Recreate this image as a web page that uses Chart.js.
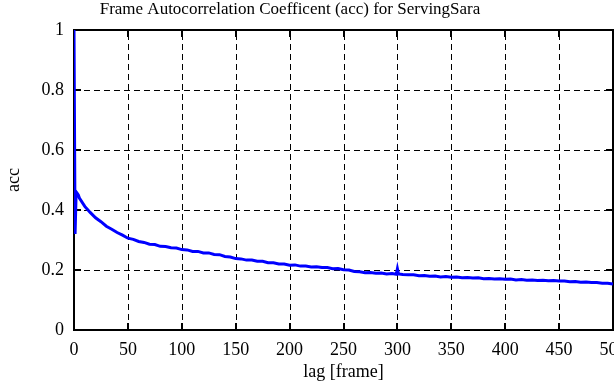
<!DOCTYPE html>
<html>
<head>
<meta charset="utf-8">
<script src="https://cdn.jsdelivr.net/npm/chart.js@4"></script>
<style>
	html, body { margin: 0; padding: 0; background: #fff; }
	#wrap { width: 614px; height: 385px; position: relative; }
</style>
</head>
<body>
<div id="wrap"><canvas id="acc-chart"></canvas></div>
<script>
const titleText = "Frame Autocorrelation Coefficent (acc) for ServingSara";
const xLabel = "lag [frame]";
const yLabel = "acc";

// lag values (frames) and the autocorrelation
const lags = [
	0, 1, 2, 3, 4, 5, 10, 15, 20, 25, 30, 35, 40, 45, 50, 55, 60, 65, 70, 75,
	80, 85, 90, 95, 100, 105, 110, 115, 120, 125, 130, 135, 140, 145, 150,
	155, 160, 165, 170, 175, 180, 185, 190, 195, 200, 205, 210, 215, 220,
	225, 230, 235, 240, 245, 250, 255, 260, 265, 270, 275, 280, 285, 290,
	295, 299, 300, 301, 305, 310, 315, 320, 325, 330, 335, 340, 345, 350,
	355, 360, 365, 370, 375, 380, 385, 390, 395, 400, 405, 410, 415, 420,
	425, 430, 435, 440, 445, 450, 455, 460, 465, 470, 475, 480, 485, 490,
	495, 500,
];
const acc = [
	1, 0.32, 0.46, 0.455, 0.45, 0.44, 0.412, 0.392, 0.374, 0.361, 0.346,
	0.336, 0.325, 0.316, 0.306, 0.302, 0.295, 0.292, 0.286, 0.285, 0.279,
	0.278, 0.274, 0.273, 0.268, 0.267, 0.262, 0.262, 0.257, 0.257, 0.252,
	0.251, 0.245, 0.243, 0.238, 0.237, 0.233, 0.233, 0.229, 0.229, 0.224,
	0.224, 0.22, 0.22, 0.216, 0.217, 0.213, 0.213, 0.21, 0.211, 0.208,
	0.208, 0.204, 0.205, 0.201, 0.2, 0.195, 0.194, 0.191, 0.192, 0.189,
	0.19, 0.187, 0.188, 0.186, 0.204, 0.187, 0.185, 0.184, 0.184, 0.181,
	0.182, 0.179, 0.18, 0.177, 0.178, 0.176, 0.177, 0.174, 0.175, 0.173,
	0.174, 0.171, 0.172, 0.17, 0.171, 0.169, 0.17, 0.167, 0.168, 0.166,
	0.167, 0.165, 0.166, 0.164, 0.165, 0.163, 0.163, 0.161, 0.162, 0.159,
	0.16, 0.158, 0.158, 0.156, 0.156, 0.153,
];

const xTicks = [0, 50, 100, 150, 200, 250, 300, 350, 400, 450, 500];
const yTicks = [0, 0.2, 0.4, 0.6, 0.8, 1];

const fontFamily = "'Liberation Serif', 'DejaVu Serif', serif";

// gnuplot style frame: dashed grid, solid border, inward ticks
const framePlugin = {
	id: "frame",
	beforeDatasetsDraw(chart) {
		const { ctx, chartArea: a, scales } = chart;
		ctx.save();
		ctx.strokeStyle = "#000";
		ctx.lineWidth = 1;
		ctx.setLineDash([6, 4]);
		xTicks.forEach(v => {
			if (v === 0 || v === 500) return;
			const x = Math.round(scales.x.getPixelForValue(v)) + 0.5;
			ctx.beginPath();
			ctx.moveTo(x, a.bottom);
			ctx.lineTo(x, a.top);
			ctx.stroke();
		});
		yTicks.forEach(v => {
			if (v === 0 || v === 1) return;
			const y = Math.round(scales.y.getPixelForValue(v)) + 0.5;
			ctx.beginPath();
			ctx.moveTo(a.left, y);
			ctx.lineTo(a.right, y);
			ctx.stroke();
		});
		ctx.setLineDash([]);
		ctx.lineWidth = 2;
		ctx.strokeRect(a.left, a.top, a.right - a.left, a.bottom - a.top);
		const tl = 7;
		xTicks.forEach(v => {
			const x = Math.round(scales.x.getPixelForValue(v));
			ctx.beginPath();
			ctx.moveTo(x, a.bottom);
			ctx.lineTo(x, a.bottom - tl);
			ctx.moveTo(x, a.top);
			ctx.lineTo(x, a.top + tl);
			ctx.stroke();
		});
		yTicks.forEach(v => {
			const y = Math.round(scales.y.getPixelForValue(v));
			ctx.beginPath();
			ctx.moveTo(a.left, y);
			ctx.lineTo(a.left + tl, y);
			ctx.moveTo(a.right, y);
			ctx.lineTo(a.right - tl, y);
			ctx.stroke();
		});
		ctx.restore();
	},
	afterDraw(chart) {
		const { ctx } = chart;
		ctx.save();
		ctx.fillStyle = "#000";
		ctx.font = "17px " + fontFamily;
		ctx.textAlign = "center";
		ctx.textBaseline = "middle";
		ctx.fillText(titleText, 290, 10);
		ctx.restore();
	},
};

new Chart(document.getElementById("acc-chart"), {
	type: "line",
	data: {
		datasets: [
			{
				data: lags.map((l, i) => ({ x: l, y: acc[i] })),
				borderColor: "#0000ff",
				borderWidth: 3,
				pointRadius: 0,
				tension: 0,
				fill: false,
			},
		],
	},
	options: {
		responsive: true,
		maintainAspectRatio: false,
		animation: false,
		layout: { padding: { top: 30, right: 1, left: 0, bottom: 0 } },
		plugins: {
			legend: { display: false },
			tooltip: { enabled: false },
			title: { display: false },
		},
		scales: {
			x: {
				type: "linear",
				min: 0,
				max: 500,
				grid: { display: false, drawTicks: false },
				border: { display: false },
				ticks: {
					stepSize: 50,
					color: "#000",
					padding: 9,
					maxRotation: 0,
					autoSkip: false,
					font: { family: fontFamily, size: 18 },
				},
				title: {
					display: true,
					text: xLabel,
					color: "#000",
					padding: { top: 0, bottom: 2 },
					font: { family: fontFamily, size: 18 },
				},
				afterFit: s => {
					s.height = 55;
					s.paddingLeft = 0;
					s.paddingRight = 0;
				},
			},
			y: {
				min: 0,
				max: 1,
				grid: { display: false, drawTicks: false },
				border: { display: false },
				ticks: {
					stepSize: 0.2,
					color: "#000",
					padding: 10,
					callback: v => String(+v.toFixed(1)),
					font: { family: fontFamily, size: 18 },
				},
				title: {
					display: true,
					text: yLabel,
					color: "#000",
					padding: { top: 3, bottom: 0 },
					font: { family: fontFamily, size: 18 },
				},
				afterFit: s => {
					s.width = 74;
					s.paddingTop = 0;
					s.paddingBottom = 0;
				},
			},
		},
	},
	plugins: [framePlugin],
});
</script>
</body>
</html>
